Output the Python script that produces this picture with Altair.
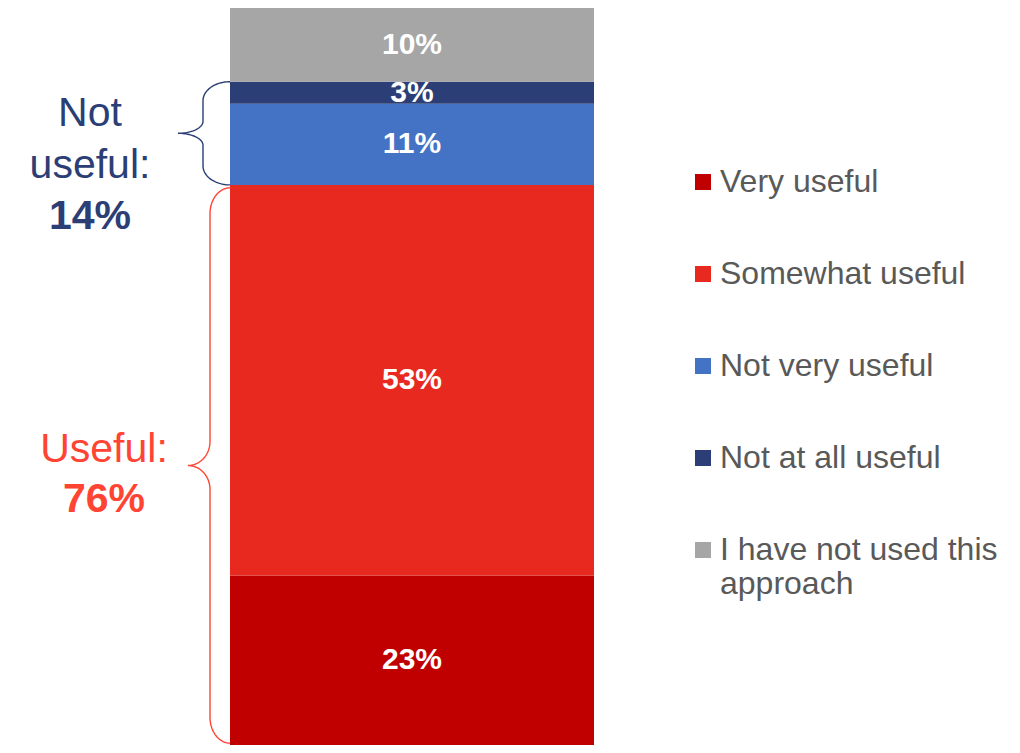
import math
import altair as alt
import pandas as pd

# ---------------- data ----------------
categories = ["Very useful", "Somewhat useful", "Not very useful",
              "Not at all useful", "I have not used this approach"]
values = [23, 53, 11, 3, 10]
bar_labels = ["23%", "53%", "11%", "3%", "10%"]
colors = ["#C00000", "#E8291F", "#4472C4", "#2B3E76", "#A6A6A6"]

group_names = ["Not useful", "Useful"]
group_members = [["Not very useful", "Not at all useful"], ["Very useful", "Somewhat useful"]]
group_colors = ["#2B3E76", "#FF4433"]

# ---------------- layout ----------------
W, H = 1004, 737
PPU = H / 100.0          # pixels per percentage point
FONT = "Liberation Sans"
BAR_X0, BAR_X1 = 222, 586

df = pd.DataFrame({"category": categories, "value": values,
                   "label": bar_labels, "rank": list(range(len(categories)))})

# cumulative bounds for groups (from data)
cum = {}
acc = 0
for c, v in zip(categories, values):
    cum[c] = (acc, acc + v)
    acc += v

def group_range(members):
    lo = min(cum[m][0] for m in members)
    hi = max(cum[m][1] for m in members)
    return lo, hi

def brace_points(lo, hi, xe, xv, xt, r1, r2, n=24):
    mid = (lo + hi) / 2.0
    r1d, r2d = r1 / PPU, r2 / PPU
    top = []
    for i in range(n + 1):
        t = math.pi / 2 * i / n
        top.append((xe - (xe - xv) * math.sin(t), hi - r1d * (1 - math.cos(t))))
    for i in range(n + 1):
        t = math.pi / 2 * i / n
        top.append((xt + (xv - xt) * math.cos(t), mid + r2d * (1 - math.sin(t))))
    bottom = [(x, 2 * mid - y) for (x, y) in reversed(top[:-1])]
    return top + bottom

brace_geom = {
    "Not useful": dict(xe=222, xv=195, xt=170, r1=19, r2=12, pad_lo=0.0, pad_hi=0.0),
    "Useful": dict(xe=222, xv=202, xt=180, r1=26, r2=24, pad_lo=0.25, pad_hi=0.4),
}

rows = []
for g, mem in zip(group_names, group_members):
    lo, hi = group_range(mem)
    p = brace_geom[g]
    pts = brace_points(lo + p["pad_lo"], hi - p["pad_hi"], p["xe"], p["xv"], p["xt"], p["r1"], p["r2"])
    for i, (x, y) in enumerate(pts):
        rows.append({"group": g, "i": i, "x": x, "y": y})
brace_df = pd.DataFrame(rows)

# annotation text
ann_rows = []
ann_spec = {
    "Not useful": dict(x=82, lines=[("Not", -19, False), ("useful:", 33, False), (None, 84, True)]),
    "Useful": dict(x=96, lines=[("Useful:", -15, False), (None, 35, True)]),
}
for g, mem, col in zip(group_names, group_members, group_colors):
    lo, hi = group_range(mem)
    mid = (lo + hi) / 2.0
    total = sum(values[categories.index(m)] for m in mem)
    spec = ann_spec[g]
    for txt, off, bold in spec["lines"]:
        ann_rows.append({"group": g, "text": txt if txt else f"{total}%",
                         "x": spec["x"], "y": mid - off / PPU,
                         "bold": bold, "color": col})
ann_df = pd.DataFrame(ann_rows)

# ---------------- chart ----------------
yscale = alt.Scale(domain=[0, 100], nice=False, zero=False)
xscale = alt.Scale(domain=[0, W], nice=False, zero=False)

base = alt.Chart(df).transform_window(
    cum="sum(value)", sort=[alt.SortField("rank")], frame=[None, 0]
).transform_calculate(
    y0="datum.cum - datum.value", mid="datum.cum - datum.value / 2"
)

legend = alt.Legend(
    orient="none", legendX=679, legendY=158, title=None,
    symbolType="square", symbolSize=256, symbolStrokeWidth=0, symbolOpacity=1,
    labelFontSize=32, labelColor="#595959", labelFont=FONT, labelLimit=400,
    rowPadding=60, labelOffset=1,
    labelExpr="datum.label == 'I have not used this approach' ? ['I have not used this', 'approach'] : datum.label",
)

bars = base.mark_bar().encode(
    x=alt.value(BAR_X0), x2=alt.value(BAR_X1),
    y=alt.Y("y0:Q", scale=yscale, axis=None), y2="cum:Q",
    color=alt.Color("category:N", scale=alt.Scale(domain=categories, range=colors),
                    legend=legend, sort=categories),
)

labels = base.mark_text(color="white", fontSize=30, fontWeight="bold", font=FONT,
                        baseline="middle", align="center").encode(
    x=alt.value((BAR_X0 + BAR_X1) / 2),
    y=alt.Y("mid:Q", scale=yscale, axis=None),
    text="label:N",
)

brace_layers = []
for g, col in zip(group_names, group_colors):
    brace_layers.append(
        alt.Chart(brace_df).transform_filter(alt.datum.group == g).mark_line(
            color=col, strokeWidth=1.4).encode(
            x=alt.X("x:Q", scale=xscale, axis=None),
            y=alt.Y("y:Q", scale=yscale, axis=None),
            order="i:Q",
        )
    )

ann_layers = []
for g, col in zip(group_names, group_colors):
    for bold in [False, True]:
        ann_layers.append(
            alt.Chart(ann_df).transform_filter(
                (alt.datum.group == g) & (alt.datum.bold == bold)
            ).mark_text(color=col, fontSize=41, font=FONT,
                        fontWeight="bold" if bold else "normal",
                        align="center", baseline="middle").encode(
                x=alt.X("x:Q", scale=xscale, axis=None),
                y=alt.Y("y:Q", scale=yscale, axis=None),
                text="text:N",
            )
        )

chart = alt.layer(bars, labels, *brace_layers, *ann_layers).properties(
    width=W, height=H, padding=0,
    autosize=alt.AutoSizeParams(type="none"),
    background="white",
).configure_view(stroke=None)

chart.save("out.html", embed_options={"renderer": "svg", "actions": False})
